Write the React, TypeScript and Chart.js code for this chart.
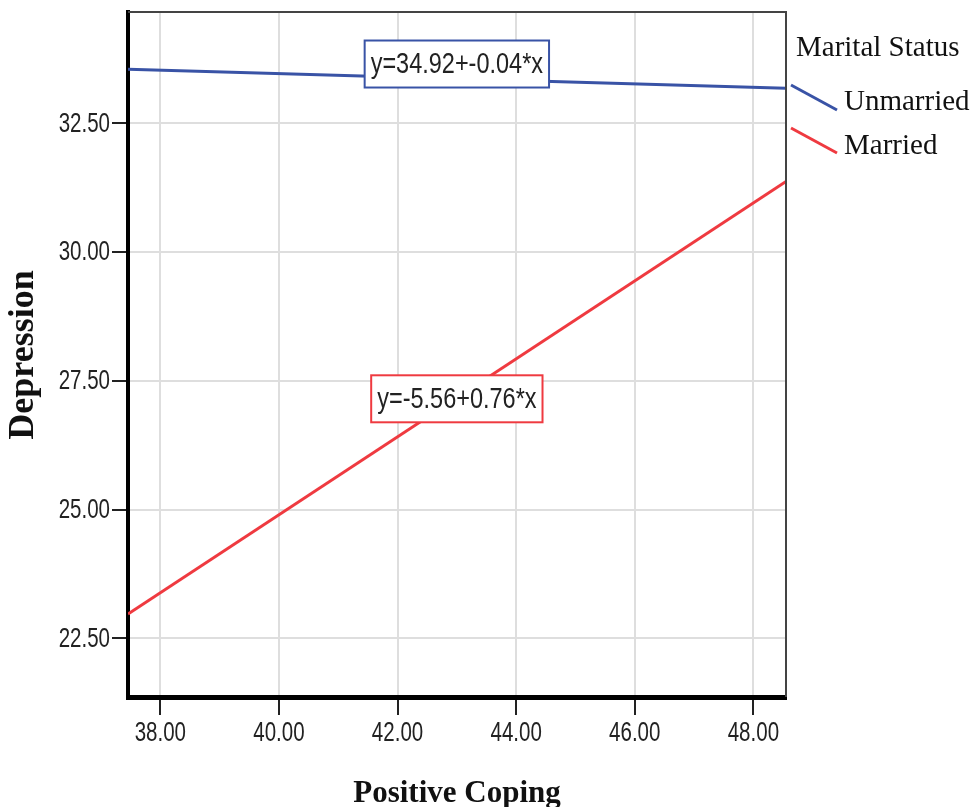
import React, { useEffect, useRef } from "react";
import { Chart, registerables } from "chart.js";

Chart.register(...registerables);

// ---- data ----
const xEnds = [37.455, 48.55];
const unmarried = [33.55, 33.18];
const married = [22.97, 31.37];
const seriesNames = ["Unmarried", "Married"];
const seriesColors = ["#3953a6", "#ef3a40"];
const equations = ["y=34.92+-0.04*x", "y=-5.56+0.76*x"];
const eqX = [43.0, 43.0];
const eqY = [33.65, 27.15];
const legendTitle = "Marital Status";
const xTitle = "Positive Coping";
const yTitle = "Depression";
const xMin = 37.455, xMax = 48.55, xStep = 2;
const yMin = 21.36, yMax = 34.66, yStep = 2.5;

const SANS = '"Liberation Sans", Arial, sans-serif';
const SERIF = '"Liberation Serif", "Times New Roman", serif';

function narrowText(ctx: any, t: string, x: number, y: number, sx: number) {
  ctx.save();
  ctx.translate(x, y);
  ctx.scale(sx, 1);
  ctx.fillText(t, 0, 0);
  ctx.restore();
}

const overlay = {
  id: "overlay",
  afterDraw(chart: any) {
    const { ctx, chartArea: ca, scales } = chart;
    ctx.save();
    // thin top/right frame
    ctx.strokeStyle = "#444";
    ctx.lineWidth = 2;
    ctx.beginPath();
    ctx.moveTo(ca.left, ca.top);
    ctx.lineTo(ca.right, ca.top);
    ctx.lineTo(ca.right, ca.bottom);
    ctx.stroke();

    // tick labels (condensed)
    ctx.fillStyle = "#222";
    ctx.font = `27px ${SANS}`;
    ctx.textBaseline = "middle";
    ctx.textAlign = "right";
    scales.y.ticks.forEach((tk: any) => {
      const py = scales.y.getPixelForValue(tk.value);
      narrowText(ctx, Number(tk.value).toFixed(2), 110, py + 1, 0.76);
    });
    ctx.textAlign = "center";
    scales.x.ticks.forEach((tk: any) => {
      const px = scales.x.getPixelForValue(tk.value);
      narrowText(ctx, Number(tk.value).toFixed(2), px, 734, 0.76);
    });

    // equation labels
    ctx.font = `29px ${SANS}`;
    ctx.textAlign = "center";
    ctx.textBaseline = "middle";
    equations.forEach((t, i) => {
      const cx = scales.x.getPixelForValue(eqX[i]);
      const cy = scales.y.getPixelForValue(eqY[i]);
      const w = ctx.measureText(t).width * 0.81 + 12;
      const h = 47;
      ctx.fillStyle = "#fff";
      ctx.fillRect(cx - w / 2, cy - h / 2, w, h);
      ctx.strokeStyle = seriesColors[i];
      ctx.lineWidth = 2;
      ctx.strokeRect(cx - w / 2, cy - h / 2, w, h);
      ctx.fillStyle = "#222";
      narrowText(ctx, t, cx, cy + 1, 0.81);
    });

    // legend
    ctx.textAlign = "left";
    ctx.textBaseline = "alphabetic";
    ctx.fillStyle = "#111";
    ctx.font = `29px ${SERIF}`;
    ctx.fillText(legendTitle, 796, 56);
    seriesNames.forEach((n, i) => {
      const y0 = 85 + i * 43;
      ctx.strokeStyle = seriesColors[i];
      ctx.lineWidth = 3;
      ctx.beginPath();
      ctx.moveTo(791, y0);
      ctx.lineTo(837, y0 + 25);
      ctx.stroke();
      ctx.fillStyle = "#111";
      ctx.font = `29px ${SERIF}`;
      ctx.fillText(n, 844, 110 + i * 44);
    });

    // axis titles
    ctx.fillStyle = "#111";
    ctx.font = `bold 36px ${SERIF}`;
    ctx.textAlign = "center";
    ctx.textBaseline = "middle";
    ctx.save();
    ctx.translate(24, 355);
    ctx.rotate(-Math.PI / 2);
    ctx.fillText(yTitle, 0, 0);
    ctx.restore();
    ctx.font = `bold 31px ${SERIF}`;
    ctx.textBaseline = "alphabetic";
    ctx.fillText(xTitle, 457, 802);
    ctx.restore();
  },
};

export default function App() {
  const ref = useRef<HTMLCanvasElement>(null);
  useEffect(() => {
    const chart = new Chart(ref.current!, {
      type: "line",
      data: {
        datasets: [
          {
            label: seriesNames[0],
            data: xEnds.map((x, i) => ({ x, y: unmarried[i] })),
            borderColor: seriesColors[0],
            borderWidth: 3,
            pointRadius: 0,
            fill: false,
          },
          {
            label: seriesNames[1],
            data: xEnds.map((x, i) => ({ x, y: married[i] })),
            borderColor: seriesColors[1],
            borderWidth: 3,
            pointRadius: 0,
            fill: false,
          },
        ],
      },
      options: {
        animation: false,
        responsive: false,
        devicePixelRatio: 1,
        layout: { padding: { top: 12, right: 186, left: 0, bottom: 0 } },
        plugins: { legend: { display: false }, tooltip: { enabled: false } },
        scales: {
          x: {
            type: "linear",
            min: xMin,
            max: xMax,
            afterFit: (s: any) => {
              s.height = 110;
              s.paddingLeft = 0; s.paddingRight = 0; s.paddingTop = 0; s.paddingBottom = 0;
            },
            grid: { color: "#dedede", lineWidth: 2, tickColor: "#222", tickWidth: 2, tickLength: 18 },
            border: { display: true, color: "#000", width: 5 },
            ticks: { stepSize: xStep, includeBounds: false, display: false, maxRotation: 0 },
          },
          y: {
            type: "linear",
            min: yMin,
            max: yMax,
            afterFit: (s: any) => {
              s.width = 128;
              s.paddingLeft = 0; s.paddingRight = 0; s.paddingTop = 0; s.paddingBottom = 0;
            },
            grid: { color: "#dedede", lineWidth: 2, tickColor: "#222", tickWidth: 2, tickLength: 16 },
            border: { display: true, color: "#000", width: 4 },
            ticks: { stepSize: yStep, includeBounds: false, display: false },
          },
        },
      },
      plugins: [overlay],
    });
    return () => chart.destroy();
  }, []);
  return (
    <div style={{ position: "fixed", left: 0, top: 0, width: 972, height: 807, background: "#fff" }}>
      <canvas ref={ref} width={972} height={807} style={{ width: 972, height: 807, display: "block" }} />
    </div>
  );
}
